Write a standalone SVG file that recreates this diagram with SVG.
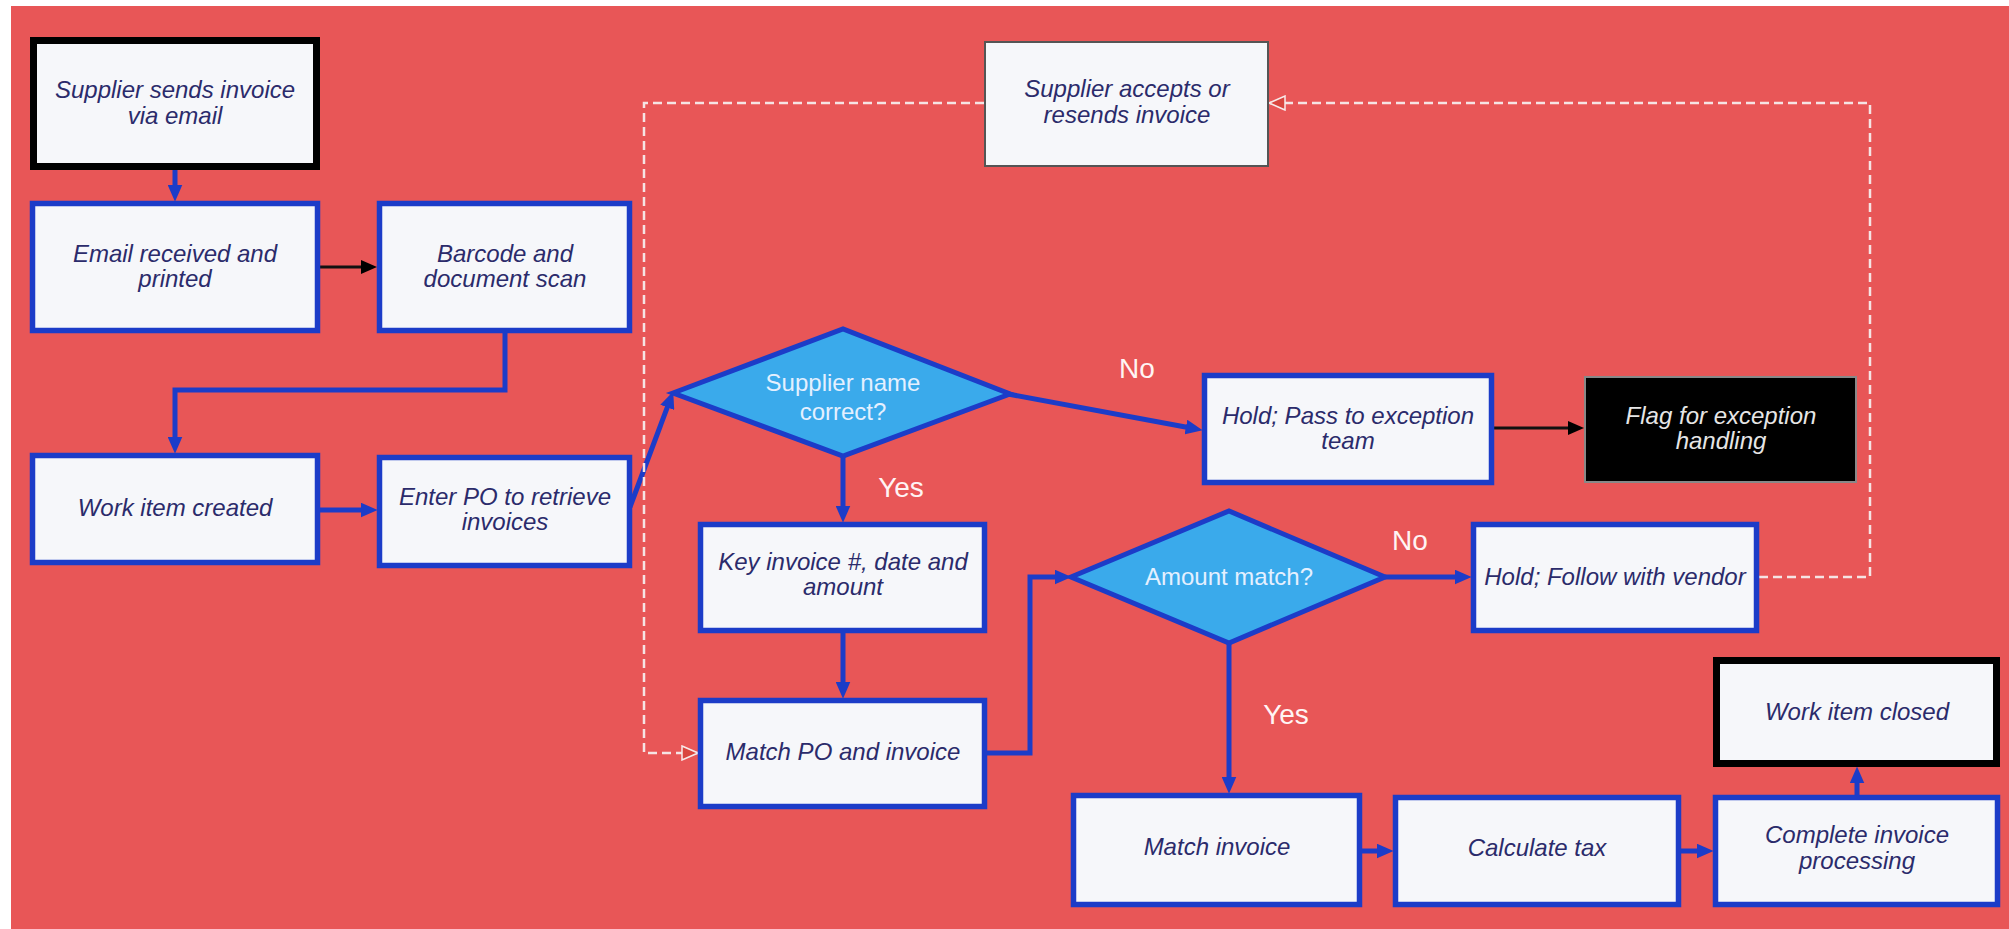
<svg xmlns="http://www.w3.org/2000/svg" width="2009" height="929" viewBox="0 0 2009 929">
<style>
.bx{fill:#F6F7FA;stroke:#1C3CC8;stroke-width:5.5}
.bk{fill:#F6F7FA;stroke:#000;stroke-width:7}
.gr{fill:#F6F7FA;stroke:#555;stroke-width:2}
.fl{fill:#000;stroke:#888;stroke-width:2}
.dm{fill:#3AAAEB;stroke:#1C3CC8;stroke-width:5;stroke-linejoin:miter}
.t{font-family:"Liberation Sans",Arial,sans-serif;font-size:24px;font-style:italic;fill:#2B2B6B;text-anchor:middle}
.tw{font-family:"Liberation Sans",Arial,sans-serif;font-size:24px;font-style:italic;fill:#E6E6E6;text-anchor:middle}
.td{font-family:"Liberation Sans",Arial,sans-serif;font-size:24px;fill:#E4F0FF;text-anchor:middle}
.lb{font-family:"Liberation Sans",Arial,sans-serif;font-size:28px;fill:#FFF4F4;text-anchor:middle}
.cb{fill:none;stroke:#1C3CC8;stroke-width:5;marker-end:url(#ab)}
.ck{fill:none;stroke:#111;stroke-width:3;marker-end:url(#ak)}
.cd{fill:none;stroke:#F5E4E4;stroke-width:2.5;stroke-dasharray:9 5;marker-end:url(#ad)}
</style>
<defs>
<marker id="ab" viewBox="0 0 16 14" refX="6" refY="7" markerWidth="17" markerHeight="15" markerUnits="userSpaceOnUse" orient="auto"><path d="M0,0 L16,7 L0,14 z" fill="#1C3CC8"/></marker>
<marker id="ak" viewBox="0 0 16 14" refX="6" refY="7" markerWidth="16" markerHeight="14" markerUnits="userSpaceOnUse" orient="auto"><path d="M0,0 L16,7 L0,14 z" fill="#000"/></marker>
<marker id="ad" viewBox="0 0 18 16" refX="17" refY="8" markerWidth="18" markerHeight="16" markerUnits="userSpaceOnUse" orient="auto"><path d="M1,1 L17,8 L1,15 z" fill="#D9463F" stroke="#F8EAEA" stroke-width="1.5"/></marker>
</defs>
<rect x="0" y="0" width="2009" height="929" fill="#FFFFFF"/>
<rect x="11" y="6" width="1998" height="923" fill="#E85657"/>

<g id="connectors">
<path class="cb" d="M175,170 V191"/>
<path class="ck" d="M320,267 H367"/>
<path class="cb" d="M505,333 V390 H175 V443"/>
<path class="cb" d="M320,510 H367"/>
<path class="cb" d="M630,507 L669.5,401.4"/>
<path class="cb" d="M1008,394 L1192.2,428.2"/>
<path class="cb" d="M843,456 V512"/>
<path class="ck" d="M1494,428 H1574"/>
<path class="cb" d="M843,633 V688"/>
<path class="cb" d="M987,753 H1030 V577 H1061"/>
<path class="cb" d="M1385,577 H1461"/>
<path class="cb" d="M1229,643 V783"/>
<path class="cb" d="M1362,851 H1383"/>
<path class="cb" d="M1681,851 H1703"/>
<path class="cb" d="M1857,795 V777"/>
<path class="cd" d="M1759,577 H1870 V103 H1269"/>
<path class="cd" d="M984,103 H644 V753 H698"/>
<text class="lb" x="1137" y="378">No</text>
<text class="lb" x="901" y="497">Yes</text>
<text class="lb" x="1410" y="550">No</text>
<text class="lb" x="1286" y="724">Yes</text>
</g>

<g id="n-supplier-sends">
<rect class="bk" x="33.5" y="40.5" width="283" height="126"/>
<text class="t" x="175" y="98">Supplier sends invoice</text>
<text class="t" x="175" y="124">via email</text>
</g>
<g id="n-email-received">
<rect class="bx" x="32.5" y="203.5" width="285" height="127"/>
<text class="t" x="175" y="262">Email received and</text>
<text class="t" x="175" y="287">printed</text>
</g>
<g id="n-barcode">
<rect class="bx" x="379.5" y="203.5" width="250" height="127"/>
<text class="t" x="505" y="262">Barcode and</text>
<text class="t" x="505" y="287">document scan</text>
</g>
<g id="n-work-item-created">
<rect class="bx" x="32.5" y="455.5" width="285" height="107"/>
<text class="t" x="175" y="516">Work item created</text>
</g>
<g id="n-enter-po">
<rect class="bx" x="379.5" y="457.5" width="250" height="108"/>
<text class="t" x="505" y="505">Enter PO to retrieve</text>
<text class="t" x="505" y="530">invoices</text>
</g>
<g id="n-supplier-accepts">
<rect class="gr" x="985" y="42" width="283" height="124"/>
<text class="t" x="1127" y="97">Supplier accepts or</text>
<text class="t" x="1127" y="123">resends invoice</text>
</g>
<g id="n-supplier-name">
<polygon class="dm" points="673,393 843,329 1010,394 843,456"/>
<text class="td" x="843" y="391">Supplier name</text>
<text class="td" x="843" y="420">correct?</text>
</g>
<g id="n-hold-pass">
<rect class="bx" x="1204.5" y="375.5" width="287" height="107"/>
<text class="t" x="1348" y="424">Hold; Pass to exception</text>
<text class="t" x="1348" y="449">team</text>
</g>
<g id="n-flag">
<rect class="fl" x="1585" y="377" width="271" height="105"/>
<text class="tw" x="1721" y="424">Flag for exception</text>
<text class="tw" x="1721" y="449">handling</text>
</g>
<g id="n-key-invoice">
<rect class="bx" x="700.5" y="524.5" width="284" height="106"/>
<text class="t" x="843" y="570">Key invoice #, date and</text>
<text class="t" x="843" y="595">amount</text>
</g>
<g id="n-match-po">
<rect class="bx" x="700.5" y="700.5" width="284" height="106"/>
<text class="t" x="843" y="760">Match PO and invoice</text>
</g>
<g id="n-amount-match">
<polygon class="dm" points="1071,577 1229,511 1385,577 1229,643"/>
<text class="td" x="1229" y="585">Amount match?</text>
</g>
<g id="n-hold-follow">
<rect class="bx" x="1473.5" y="524.5" width="283" height="106"/>
<text class="t" x="1615" y="585">Hold; Follow with vendor</text>
</g>
<g id="n-work-item-closed">
<rect class="bk" x="1716.5" y="660.5" width="280" height="103"/>
<text class="t" x="1857" y="720">Work item closed</text>
</g>
<g id="n-match-invoice">
<rect class="bx" x="1073.5" y="795.5" width="286" height="109"/>
<text class="t" x="1217" y="855">Match invoice</text>
</g>
<g id="n-calculate-tax">
<rect class="bx" x="1395.5" y="797.5" width="283" height="107"/>
<text class="t" x="1537" y="856">Calculate tax</text>
</g>
<g id="n-complete">
<rect class="bx" x="1715.5" y="797.5" width="282" height="107"/>
<text class="t" x="1857" y="843">Complete invoice</text>
<text class="t" x="1857" y="869">processing</text>
</g>
</svg>
